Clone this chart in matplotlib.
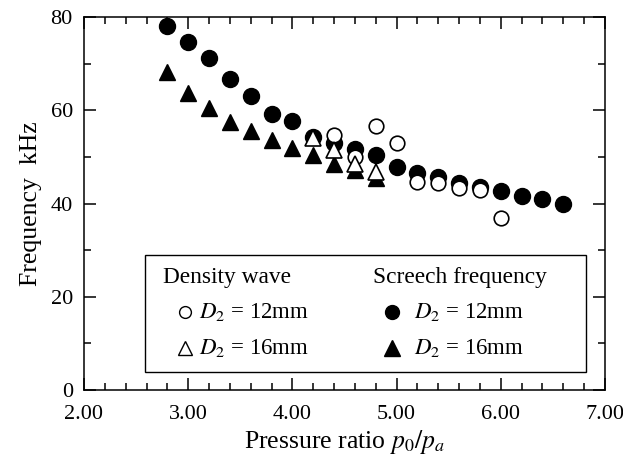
import matplotlib
matplotlib.use("Agg")
import matplotlib.pyplot as plt
from matplotlib.patches import Rectangle
from matplotlib.ticker import MultipleLocator, FormatStrFormatter

plt.rcParams['font.family'] = 'Liberation Serif'
plt.rcParams['mathtext.fontset'] = 'stix'

# screech frequency, filled markers
screech_12_x = [2.8, 3.0, 3.2, 3.4, 3.6, 3.8, 4.0, 4.2, 4.4, 4.6, 4.8, 5.0, 5.2, 5.4, 5.6, 5.8, 6.0, 6.2, 6.4, 6.6]
screech_12_y = [78.1, 74.7, 71.3, 66.8, 63.0, 59.3, 57.8, 54.3, 53.0, 51.6, 50.3, 47.8, 46.6, 45.7, 44.5, 43.6, 42.7, 41.6, 40.9, 40.0]
screech_16_x = [2.8, 3.0, 3.2, 3.4, 3.6, 3.8, 4.0, 4.2, 4.4, 4.6, 4.8]
screech_16_y = [68.1, 63.8, 60.4, 57.5, 55.6, 53.6, 51.9, 50.3, 48.5, 47.2, 45.5]

# density wave, open markers
density_12_x = [4.4, 4.6, 4.8, 5.0, 5.2, 5.4, 5.6, 5.8, 6.0]
density_12_y = [54.7, 50.0, 56.6, 53.0, 44.7, 44.3, 43.4, 42.9, 36.8]
density_16_x = [4.2, 4.4, 4.6, 4.8]
density_16_y = [54.0, 51.5, 48.5, 46.7]

fig = plt.figure(figsize=(6.23, 4.62), dpi=100)
ax = fig.add_axes([0.1348, 0.1558, 0.8363, 0.8074])

ax.plot(screech_12_x, screech_12_y, 'o', ms=11.5, color='black', ls='none')
ax.plot(screech_16_x, screech_16_y, '^', ms=12, color='black', ls='none')
ax.plot(density_12_x, density_12_y, 'o', ms=10.5, mfc='white', mec='black', mew=1.2, ls='none')
ax.plot(density_16_x, density_16_y, '^', ms=11.5, mfc='white', mec='black', mew=1.2, ls='none')

ax.set_xlim(2, 7)
ax.set_ylim(0, 80)
ax.xaxis.set_major_locator(MultipleLocator(1))
ax.xaxis.set_minor_locator(MultipleLocator(0.2))
ax.yaxis.set_major_locator(MultipleLocator(20))
ax.yaxis.set_minor_locator(MultipleLocator(10))
ax.xaxis.set_major_formatter(FormatStrFormatter('%.2f'))
ax.tick_params(which='both', direction='in', top=True, right=True, width=1.1, labelsize=16)
ax.tick_params(which='major', length=8.5)
ax.tick_params(which='minor', length=5)
ax.tick_params(axis='x', pad=11)
ax.tick_params(axis='y', pad=8)
for s in ax.spines.values():
    s.set_linewidth(1.1)

ax.set_xlabel('Pressure ratio $p_0/p_a$', fontsize=18.5, labelpad=3)
ax.set_ylabel('Frequency  kHz', fontsize=18.5, labelpad=6)

# legend box
tr = ax.transAxes
def axx(px):
    return (px - 84) / 521.0
def axy(py):
    return (390 - py) / 373.0

ax.add_patch(Rectangle((axx(145), axy(372)), axx(586) - axx(145), axy(255) - axy(372),
                       transform=tr, fill=False, ec='black', lw=1.0))
ax.text(axx(163), axy(277), 'Density wave', transform=tr, fontsize=16.8, va='center')
ax.text(axx(373), axy(277), 'Screech frequency', transform=tr, fontsize=16.8, va='center')
ax.plot([axx(185)], [axy(312)], 'o', ms=8.5, mfc='white', mec='black', mew=1.0, transform=tr)
ax.plot([axx(185)], [axy(348)], '^', ms=10, mfc='white', mec='black', mew=1.0, transform=tr)
ax.plot([axx(392)], [axy(312)], 'o', ms=10, color='black', transform=tr)
ax.plot([axx(392)], [axy(348)], '^', ms=11, color='black', transform=tr)
ax.text(axx(199), axy(312), '$D_2$ = 12mm', transform=tr, fontsize=16.5, va='center')
ax.text(axx(199), axy(348), '$D_2$ = 16mm', transform=tr, fontsize=16.5, va='center')
ax.text(axx(414), axy(312), '$D_2$ = 12mm', transform=tr, fontsize=16.5, va='center')
ax.text(axx(414), axy(348), '$D_2$ = 16mm', transform=tr, fontsize=16.5, va='center')

fig.savefig('out.png', dpi=100)
